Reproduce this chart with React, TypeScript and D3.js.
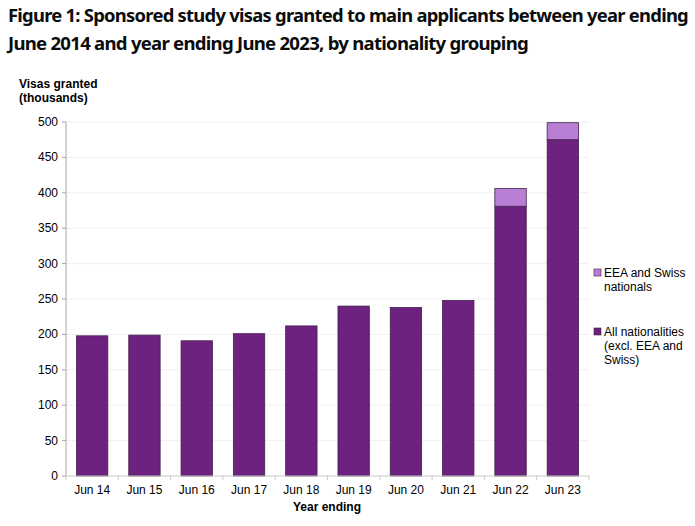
import React from "react";
import * as d3 from "d3";

const categories = ["Jun 14", "Jun 15", "Jun 16", "Jun 17", "Jun 18", "Jun 19", "Jun 20", "Jun 21", "Jun 22", "Jun 23"];
const allNationalities = [198, 199, 191, 201, 212, 240, 238, 248, 381, 475];
const eeaSwiss = [0, 0, 0, 0, 0, 0, 0, 0, 25, 24];
const yTicks = [0, 50, 100, 150, 200, 250, 300, 350, 400, 450, 500];

const W = 695, H = 526;
const left = 66, right = 589, top = 122, bottom = 476;
const darkColor = "#6e2280";
const lightColor = "#b97fd4";
const font = "'Liberation Sans', Arial, sans-serif";
const titleFont = "'Noto Sans', 'Open Sans', sans-serif";

export default function App() {
  const x = d3.scaleBand<string>().domain(categories).range([left, right]).paddingInner(0.4).paddingOuter(0.2);
  const xb = d3.scaleBand<string>().domain(categories).range([left, right]);
  const y = d3.scaleLinear().domain([0, 500]).range([bottom, top]);
  const stack = d3.stack<number>().keys(["all", "eea"]).value((i, k) => (k === "all" ? allNationalities[i] : eeaSwiss[i]));
  const series = stack(categories.map((_, i) => i));
  const colors = [darkColor, lightColor];
  return (
    <svg width={W} height={H} style={{ position: "absolute", left: 0, top: 0, background: "#fff" }}>
      <text x={8} y={22} fontFamily={titleFont} fontWeight={700} fontSize={17.5} fill="#0b0c0c" letterSpacing={-0.7} textLength={680} lengthAdjust="spacingAndGlyphs">
        Figure 1: Sponsored study visas granted to main applicants between year ending
      </text>
      <text x={8} y={50} fontFamily={titleFont} fontWeight={700} fontSize={17.5} fill="#0b0c0c" letterSpacing={-0.7} textLength={520} lengthAdjust="spacingAndGlyphs">
        June 2014 and year ending June 2023, by nationality grouping
      </text>
      <text x={19} y={88} fontFamily={font} fontWeight={700} fontSize={12} fill="#000">Visas granted</text>
      <text x={19} y={102} fontFamily={font} fontWeight={700} fontSize={12} fill="#000">(thousands)</text>
      {yTicks.filter((t) => t > 0).map((t) => (
        <line key={"g" + t} x1={left} x2={right} y1={y(t)} y2={y(t)} stroke="#f0f0f0" strokeWidth={1} />
      ))}
      {series.map((s, si) =>
        s.map((d, i) => {
          const h = y(d[0]) - y(d[1]);
          if (h <= 0) return null;
          return (
            <rect key={si + "-" + i} x={x(categories[i])!} y={y(d[1])} width={x.bandwidth()} height={h}
              fill={colors[si]} stroke="#40204a" strokeWidth={0.8} />
          );
        })
      )}
      <line x1={left} x2={left} y1={top} y2={bottom} stroke="#a6a6a6" />
      <line x1={left} x2={right} y1={bottom} y2={bottom} stroke="#c8c8c8" />
      {yTicks.map((t) => (
        <g key={"t" + t}>
          <line x1={left - 4} x2={left} y1={y(t)} y2={y(t)} stroke="#a6a6a6" />
          <text x={left - 8} y={y(t) + 4} textAnchor="end" fontFamily={font} fontSize={12} fill="#000">{t}</text>
        </g>
      ))}
      {categories.map((c) => (
        <line key={"xt" + c} x1={xb(c)!} x2={xb(c)!} y1={bottom} y2={bottom + 4} stroke="#c8c8c8" />
      ))}
      <line x1={right} x2={right} y1={bottom} y2={bottom + 4} stroke="#c8c8c8" />
      {categories.map((c) => (
        <text key={"xl" + c} x={xb(c)! + xb.bandwidth() / 2} y={bottom + 18} textAnchor="middle" fontFamily={font} fontSize={12} fill="#000">{c}</text>
      ))}
      <text x={327} y={511} textAnchor="middle" fontFamily={font} fontWeight={700} fontSize={12} fill="#000">Year ending</text>
      <rect x={594} y={269} width={7} height={7} fill={lightColor} stroke="#40204a" strokeWidth={0.6} />
      <text x={604} y={277} fontFamily={font} fontSize={12} fill="#000">EEA and Swiss</text>
      <text x={604} y={291} fontFamily={font} fontSize={12} fill="#000">nationals</text>
      <rect x={594} y={328} width={7} height={7} fill={darkColor} stroke="#40204a" strokeWidth={0.6} />
      <text x={604} y={336} fontFamily={font} fontSize={12} fill="#000">All nationalities</text>
      <text x={604} y={350} fontFamily={font} fontSize={12} fill="#000">(excl. EEA and</text>
      <text x={604} y={364} fontFamily={font} fontSize={12} fill="#000">Swiss)</text>
    </svg>
  );
}
